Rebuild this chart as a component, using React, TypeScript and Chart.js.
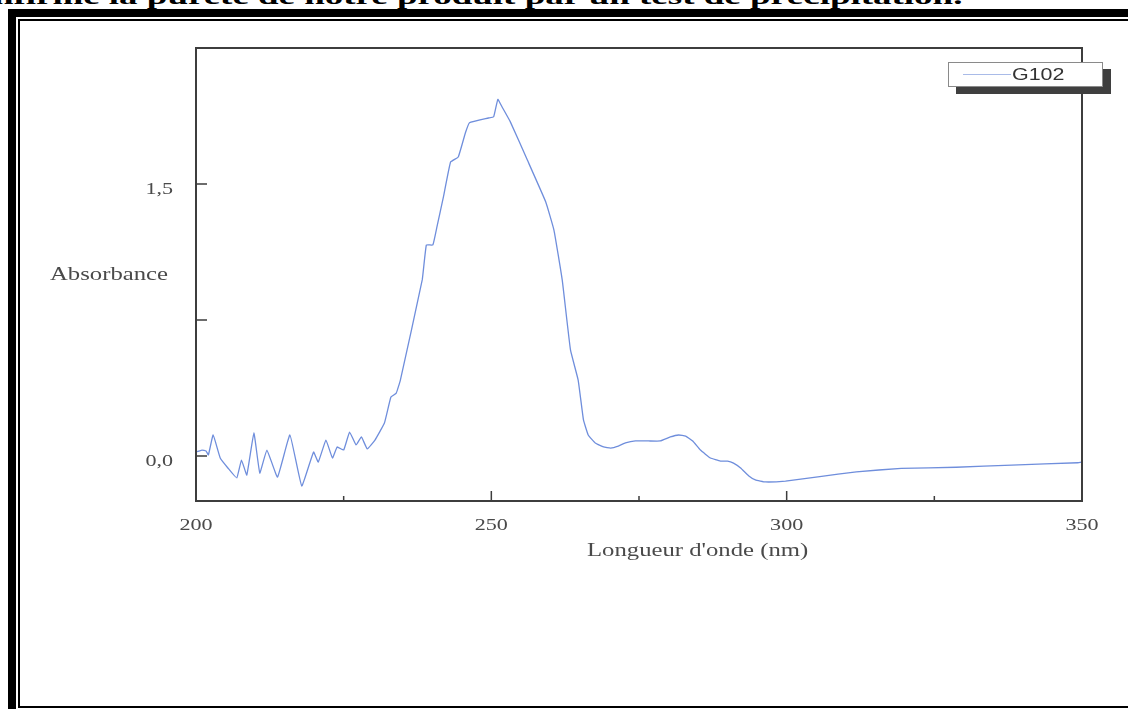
import React, { useEffect, useRef } from 'react';
import { Chart, registerables } from 'chart.js';

Chart.register(...registerables);

// ---------- data ----------
const WAVELENGTH_NM = [
  200.0, 201.0, 201.7, 202.1, 202.9, 204.1, 205.4, 206.9, 207.7, 208.6,
  209.8, 210.8, 212.0, 213.8, 215.9, 217.9, 219.9, 220.7, 222.0, 223.1,
  223.9, 225.0, 226.0, 227.1, 228.0, 229.0, 230.3, 231.9, 233.0, 233.9,
  234.6, 238.3, 239.0, 240.1, 240.8, 241.9, 243.1, 244.4, 245.6, 246.3,
  249.5, 250.4, 251.1, 251.8, 253.2, 256.1, 259.2, 260.6, 262.0, 263.4,
  264.7, 265.6, 266.4, 267.6, 269.0, 270.2, 271.5, 272.7, 274.4, 276.6,
  278.6, 280.3, 281.7, 282.9, 284.1, 285.4, 287.1, 288.8, 290.0, 291.0,
  292.2, 293.6, 294.7, 296.4, 299.8, 305.6, 311.8, 319.4, 328.7, 338.1,
  349.3, 350.0,
];
const ABSORBANCE = [
  0.022, 0.033, 0.028, 0.006, 0.116, -0.011, -0.066, -0.121, -0.022, -0.105,
  0.127, -0.094, 0.033, -0.116, 0.116, -0.165, 0.022, -0.033, 0.088, -0.011,
  0.050, 0.033, 0.132, 0.061, 0.105, 0.039, 0.088, 0.182, 0.325, 0.347,
  0.419, 0.971, 1.164, 1.164, 1.265, 1.430, 1.621, 1.649, 1.781, 1.838,
  1.864, 1.871, 1.967, 1.926, 1.844, 1.632, 1.402, 1.246, 0.971, 0.585,
  0.419, 0.199, 0.116, 0.072, 0.050, 0.044, 0.055, 0.072, 0.083, 0.083,
  0.083, 0.105, 0.116, 0.110, 0.083, 0.033, -0.011, -0.028, -0.028, -0.039,
  -0.066, -0.110, -0.132, -0.143, -0.138, -0.114, -0.087, -0.068, -0.062, -0.050,
  -0.037, -0.033,
];
const SERIES_LABEL = 'G102';
const X_TICK_VALUES = [200, 250, 300, 350];
const X_MINOR_TICK_VALUES = [225, 275, 325];
const Y_TICK_VALUES = [0, 0.75, 1.5];
const Y_LABELED_VALUES = [0, 1.5];
const X_TITLE = "Longueur d'onde (nm)";
const Y_TITLE = 'Absorbance';
const HEADER_TEXT = 'confirme la pureté de notre produit par un test de précipitation.';

const STRETCH = 1.3;
const TEXT_COLOR = '#4a4a4a';

function fmt(v: number): string {
  return v.toFixed(1).replace('.', ',');
}

function drawStretched(ctx: CanvasRenderingContext2D, text: string, x: number, y: number, align: CanvasTextAlign) {
  ctx.save();
  ctx.translate(x, y);
  ctx.scale(STRETCH, 1);
  ctx.textAlign = align;
  ctx.textBaseline = 'middle';
  ctx.fillText(text, 0, 0);
  ctx.restore();
}

const axesPlugin = {
  id: 'scanAxes',
  afterDraw(chart: any) {
    const { ctx, chartArea: a } = chart;
    const xs = chart.scales.x;
    const ys = chart.scales.y;
    ctx.save();
    // plot frame
    ctx.strokeStyle = '#3d3d3d';
    ctx.lineWidth = 2;
    ctx.strokeRect(a.left, a.top, a.right - a.left, a.bottom - a.top);

    // inward tick marks
    ctx.lineWidth = 1.5;
    ctx.beginPath();
    X_TICK_VALUES.forEach((v) => {
      const px = xs.getPixelForValue(v);
      if (px > a.left + 2 && px < a.right - 2) {
        ctx.moveTo(px, a.bottom);
        ctx.lineTo(px, a.bottom - 10);
      }
    });
    X_MINOR_TICK_VALUES.forEach((v) => {
      const px = xs.getPixelForValue(v);
      ctx.moveTo(px, a.bottom);
      ctx.lineTo(px, a.bottom - 5);
    });
    Y_TICK_VALUES.forEach((v) => {
      const py = ys.getPixelForValue(v);
      ctx.moveTo(a.left, py);
      ctx.lineTo(a.left + 11, py);
    });
    ctx.stroke();

    // tick labels
    ctx.fillStyle = TEXT_COLOR;
    ctx.font = '17px "Liberation Serif", "Times New Roman", serif';
    xs.ticks.forEach((t: any) => {
      drawStretched(ctx, String(t.value), xs.getPixelForValue(t.value), a.bottom + 25, 'center');
    });
    ys.ticks.forEach((t: any) => {
      if (Y_LABELED_VALUES.includes(t.value)) {
        drawStretched(ctx, fmt(t.value), a.left - 23, ys.getPixelForValue(t.value) + 6, 'right');
      }
    });

    // axis titles
    ctx.font = '19px "Liberation Serif", "Times New Roman", serif';
    drawStretched(ctx, Y_TITLE, 168, 275, 'right');
    drawStretched(ctx, X_TITLE, 587, a.bottom + 50, 'left');
    ctx.restore();
  },
};

export default function App() {
  const canvasRef = useRef<HTMLCanvasElement | null>(null);

  useEffect(() => {
    const canvas = canvasRef.current;
    if (!canvas) return;
    const chart = new Chart(canvas, {
      type: 'line',
      data: {
        datasets: [
          {
            label: SERIES_LABEL,
            data: WAVELENGTH_NM.map((x, i) => ({ x, y: ABSORBANCE[i] })),
            borderColor: '#6f8edc',
            borderWidth: 1.3,
            pointRadius: 0,
            tension: 0.1,
            fill: false,
          },
        ],
      },
      options: {
        animation: false,
        responsive: false,
        maintainAspectRatio: false,
        layout: { padding: { left: 0, right: 46, top: 48, bottom: 0 } },
        plugins: { legend: { display: false }, tooltip: { enabled: false } },
        scales: {
          x: {
            type: 'linear',
            min: 200,
            max: 350,
            afterBuildTicks: (s: any) => {
              s.ticks = X_TICK_VALUES.map((v) => ({ value: v }));
            },
            afterFit: (s: any) => {
              s.height = 208;
            },
            grid: { display: false },
            border: { display: false },
            ticks: { display: false },
          },
          y: {
            type: 'linear',
            min: -0.248,
            max: 2.25,
            afterBuildTicks: (s: any) => {
              s.ticks = Y_TICK_VALUES.map((v) => ({ value: v }));
            },
            afterFit: (s: any) => {
              s.width = 196;
            },
            grid: { display: false },
            border: { display: false },
            ticks: { display: false },
          },
        },
      } as any,
      plugins: [axesPlugin],
    });
    return () => chart.destroy();
  }, []);

  return (
    <div
      style={{
        position: 'fixed',
        left: 0,
        top: 0,
        width: 1128,
        height: 709,
        overflow: 'hidden',
        background: '#ffffff',
      }}
    >
      <div
        style={{
          position: 'absolute',
          left: -42,
          top: -16,
          whiteSpace: 'nowrap',
          fontFamily: '"Liberation Serif", "Times New Roman", serif',
          fontWeight: 'bold',
          fontSize: 24,
          lineHeight: '24px',
          color: '#000',
          transform: 'scaleX(1.54)',
          transformOrigin: 'left top',
        }}
      >
        {HEADER_TEXT}
      </div>
      <div
        style={{
          position: 'absolute',
          left: 8,
          top: 9,
          width: 1300,
          height: 800,
          borderTop: '8px solid #000',
          borderLeft: '8px solid #000',
          boxSizing: 'border-box',
        }}
      />
      <div
        style={{
          position: 'absolute',
          left: 18,
          top: 19,
          width: 1300,
          height: 689,
          borderTop: '2px solid #000',
          borderLeft: '2px solid #000',
          borderBottom: '2px solid #000',
          boxSizing: 'border-box',
        }}
      />
      <canvas
        ref={canvasRef}
        width={1128}
        height={709}
        style={{ position: 'absolute', left: 0, top: 0, width: 1128, height: 709 }}
      />
      <div
        style={{
          position: 'absolute',
          left: 948,
          top: 62,
          width: 155,
          height: 25,
          background: '#fff',
          border: '1px solid #8a8a8a',
          boxShadow: '8px 7px 0 #3f3f3f',
          boxSizing: 'border-box',
        }}
      >
        <div
          style={{
            position: 'absolute',
            left: 14,
            top: 11,
            width: 48,
            height: 1,
            background: '#a9bbe8',
          }}
        />
        <div
          style={{
            position: 'absolute',
            left: 63,
            top: 0,
            lineHeight: '23px',
            fontFamily: '"Liberation Sans", Arial, sans-serif',
            fontSize: 16.5,
            color: '#333',
            whiteSpace: 'nowrap',
            transform: 'scaleX(1.3)',
            transformOrigin: 'left center',
          }}
        >
          {SERIES_LABEL}
        </div>
      </div>
    </div>
  );
}
